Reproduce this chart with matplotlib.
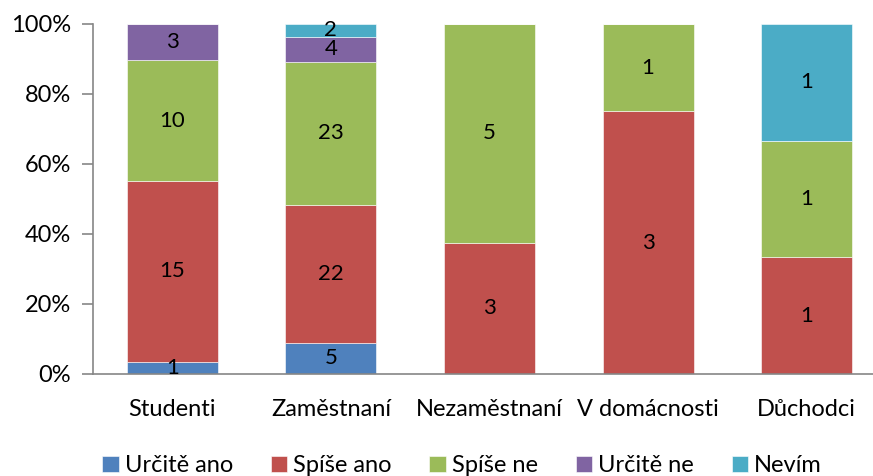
import matplotlib
matplotlib.use('Agg')
from matplotlib import pyplot as plt
import numpy as np

plt.rcParams['font.family'] = ['Lato', 'DejaVu Sans']

categories = ['Studenti', 'Zaměstnaní', 'Nezaměstnaní', 'V domácnosti', 'Důchodci']
series = ['Určitě ano', 'Spíše ano', 'Spíše ne', 'Určitě ne', 'Nevím']
urcite_ano = [1, 5, 0, 0, 0]
spise_ano = [15, 22, 3, 3, 1]
spise_ne = [10, 23, 5, 1, 1]
urcite_ne = [3, 4, 0, 0, 0]
nevim = [0, 2, 0, 0, 1]
colors = ['#4F81BD', '#C0504D', '#9BBB59', '#8064A2', '#4BACC6']

counts = np.array([urcite_ano, spise_ano, spise_ne, urcite_ne, nevim], dtype=float)
shares = counts / counts.sum(axis=0) * 100

fig = plt.figure(figsize=(8.73, 4.76), dpi=100)
ax = fig.add_axes([93 / 873, 102 / 476, 793 / 873, 350 / 476])

x = np.arange(len(categories))
bottom = np.zeros(len(categories))
for name, vals, cnt, col in zip(series, shares, counts, colors):
    ax.bar(x, vals, 0.575, bottom=bottom, color=col, label=name,
           edgecolor='white', linewidth=0.4)
    for xi, b, v, c in zip(x, bottom, vals, cnt):
        if c > 0:
            ax.text(xi, b + v / 2, f'{int(c)}', ha='center', va='center',
                    fontsize=16, color='black')
    bottom += vals

ax.set_xlim(-0.5, 4.5)
ax.set_ylim(0, 100)
ax.set_yticks([0, 20, 40, 60, 80, 100])
ax.set_yticklabels([f'{v}%' for v in range(0, 101, 20)], fontsize=17)
ax.set_xticks(x)
ax.set_xticklabels(categories, fontsize=17)
ax.tick_params(axis='x', length=0, pad=18)
ax.tick_params(axis='y', length=8, color='#868686', width=1.2, pad=8)
for s in ['top', 'right']:
    ax.spines[s].set_visible(False)
for s in ['left', 'bottom']:
    ax.spines[s].set_color('#868686')
    ax.spines[s].set_linewidth(1.2)

fig.legend(loc='lower center', bbox_to_anchor=(462 / 873, -0.045), ncol=5,
           frameon=False, fontsize=17, handlelength=0.7, handleheight=0.7,
           handletextpad=0.25, columnspacing=1.6)

plt.savefig('out.png', dpi=100)
